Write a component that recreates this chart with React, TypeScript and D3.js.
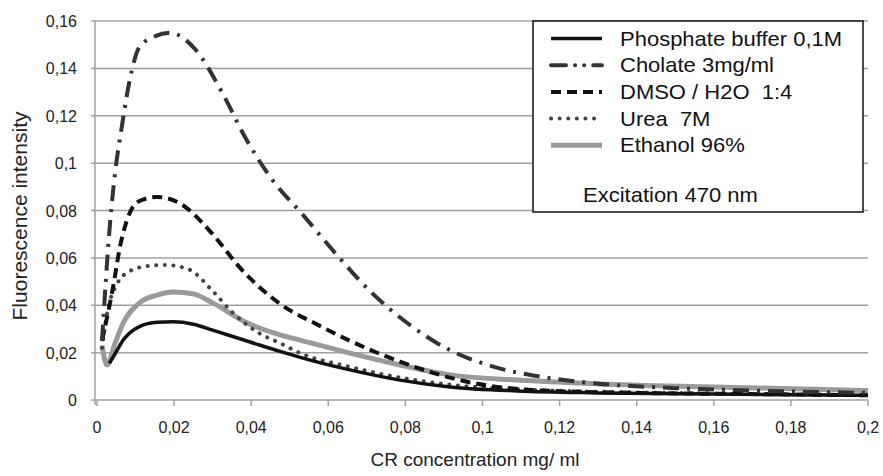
import React from "react";
import * as d3 from "d3";

const xTicks = [0, 0.02, 0.04, 0.06, 0.08, 0.1, 0.12, 0.14, 0.16, 0.18, 0.2];
const yTicks = [0, 0.02, 0.04, 0.06, 0.08, 0.1, 0.12, 0.14, 0.16];

const phosphateX = [0.0032, 0.0045, 0.0068, 0.011, 0.0156, 0.0198, 0.025, 0.03, 0.0397, 0.0475, 0.0527, 0.0656, 0.0786, 0.0916, 0.109, 0.13, 0.16, 0.2];
const phosphateY = [0.0155, 0.019, 0.0253, 0.031, 0.0328, 0.033, 0.032, 0.0295, 0.0245, 0.0205, 0.018, 0.0127, 0.0084, 0.0055, 0.0038, 0.003, 0.0025, 0.002];

const cholateX = [0.0013, 0.0034, 0.0047, 0.0065, 0.0086, 0.011, 0.015, 0.019, 0.0255, 0.0324, 0.0384, 0.045, 0.0535, 0.0618, 0.0708, 0.0804, 0.091, 0.103, 0.1157, 0.128, 0.15, 0.175, 0.2];
const cholateY = [0.025, 0.075, 0.096, 0.116, 0.136, 0.149, 0.1535, 0.155, 0.148, 0.13, 0.111, 0.094, 0.078, 0.062, 0.046, 0.0326, 0.0215, 0.014, 0.0097, 0.0072, 0.005, 0.0038, 0.003];

const dmsoX = [0.0013, 0.0042, 0.006, 0.008, 0.011, 0.0155, 0.0215, 0.03, 0.037, 0.048, 0.057, 0.0656, 0.0786, 0.096, 0.113, 0.14, 0.17, 0.2];
const dmsoY = [0.025, 0.048, 0.065, 0.077, 0.084, 0.0857, 0.083, 0.07, 0.056, 0.04, 0.032, 0.025, 0.0162, 0.0077, 0.0042, 0.003, 0.0025, 0.002];

const ureaX = [0.0013, 0.0028, 0.0052, 0.0086, 0.013, 0.018, 0.024, 0.03, 0.0353, 0.0423, 0.0475, 0.0527, 0.0656, 0.0786, 0.0916, 0.11, 0.13, 0.16, 0.2];
const ureaY = [0.022, 0.038, 0.049, 0.0545, 0.0565, 0.057, 0.055, 0.046, 0.0367, 0.028, 0.024, 0.0198, 0.014, 0.0095, 0.0065, 0.0045, 0.0035, 0.0028, 0.002];

const ethanolX = [0.0013, 0.0026, 0.0047, 0.0068, 0.011, 0.0156, 0.0198, 0.025, 0.03, 0.039, 0.0475, 0.0527, 0.0656, 0.0786, 0.0916, 0.109, 0.13, 0.16, 0.2];
const ethanolY = [0.023, 0.0148, 0.024, 0.0325, 0.041, 0.0443, 0.0456, 0.0448, 0.041, 0.0325, 0.0275, 0.0253, 0.0198, 0.0148, 0.0106, 0.0084, 0.0068, 0.0055, 0.004];

const seriesNames = ["Phosphate buffer 0,1M", "Cholate 3mg/ml", "DMSO / H2O  1:4", "Urea  7M", "Ethanol 96%"];
const note = "Excitation 470 nm";
const xTitle = "CR concentration mg/ ml";
const yTitle = "Fluorescence intensity";

const fmt = (v: number) => String(+v.toFixed(2)).replace(".", ",");

export default function App() {
  const W = 883, H = 476;
  const x = d3.scaleLinear().domain([0, 0.2]).range([97, 868]);
  const y = d3.scaleLinear().domain([0, 0.16]).range([400, 21]);
  const font = "'Liberation Sans', Arial, sans-serif";

  const styles = [
    { stroke: "#111", width: 3.5, dash: "", cap: "butt" },
    { stroke: "#333", width: 4, dash: "16 8 3 8", cap: "butt" },
    { stroke: "#111", width: 4, dash: "10 6", cap: "butt" },
    { stroke: "#444", width: 4, dash: "0.1 8.5", cap: "round" },
    { stroke: "#9a9a9a", width: 5, dash: "", cap: "butt" },
  ];
  const data = [
    [phosphateX, phosphateY],
    [cholateX, cholateY],
    [dmsoX, dmsoY],
    [ureaX, ureaY],
    [ethanolX, ethanolY],
  ];
  const line = d3
    .line<[number, number]>()
    .x((d) => x(d[0]))
    .y((d) => y(d[1]))
    .curve(d3.curveMonotoneX);
  const order = [4, 3, 0, 2, 1];

  const lgX = 533, lgY = 21, lgW = 330, lgH = 191;

  return (
    <svg width={W} height={H} style={{ position: "absolute", left: 0, top: 0, background: "#fff" }} fontFamily={font}>
      <rect x={0} y={0} width={W} height={H} fill="#fff" />
      {yTicks.map((t) => (
        <g key={"y" + t}>
          <line x1={91} x2={x(0.2)} y1={y(t)} y2={y(t)} stroke="#a0a0a0" strokeWidth={1.5} />
          <text x={77} y={y(t) + 6} textAnchor="end" fontSize={16} fill="#222">{fmt(t)}</text>
        </g>
      ))}
      <line x1={x(0) - 2} x2={x(0) - 2} y1={y(0.16)} y2={y(0) + 5} stroke="#a0a0a0" strokeWidth={1.5} />
      {xTicks.map((t) => (
        <g key={"x" + t}>
          <line x1={x(t)} x2={x(t)} y1={y(0)} y2={y(0) + 6} stroke="#a0a0a0" strokeWidth={1.5} />
          <text x={x(t)} y={433} textAnchor="middle" fontSize={16} fill="#222">{fmt(t)}</text>
        </g>
      ))}
      {order.map((i) => {
        const pts = data[i][0].map((v, k) => [v, data[i][1][k]] as [number, number]);
        const s = styles[i];
        return (
          <path key={"s" + i} d={line(pts) || ""} fill="none" stroke={s.stroke} strokeWidth={s.width}
            strokeDasharray={s.dash || undefined} strokeLinecap={s.cap as any} strokeLinejoin="round" />
        );
      })}
      <text x={475} y={466} textAnchor="middle" fontSize={19} fill="#222">{xTitle}</text>
      <text transform={`translate(27,216) rotate(-90)`} textAnchor="middle" fontSize={21} fill="#222">{yTitle}</text>
      <rect x={lgX} y={lgY} width={lgW} height={lgH} fill="#fff" stroke="#111" strokeWidth={1.5} />
      {seriesNames.map((n, i) => {
        const cy = 38.5 + i * 26.7;
        const s = styles[i];
        return (
          <g key={"l" + i}>
            <line x1={551} x2={602} y1={cy} y2={cy} stroke={s.stroke} strokeWidth={s.width}
              strokeDasharray={i === 1 ? "15 9 0.1 9 0.1 9" : s.dash || undefined} strokeLinecap={(i === 1 ? "round" : s.cap) as any} />
            <text transform={`translate(620,${cy + 7}) scale(1.1,1)`} fontSize={20} fill="#111" style={{ whiteSpace: "pre" }}>{n}</text>
          </g>
        );
      })}
      <text transform={`translate(583,201.5) scale(1.1,1)`} fontSize={20} fill="#111">{note}</text>
    </svg>
  );
}
